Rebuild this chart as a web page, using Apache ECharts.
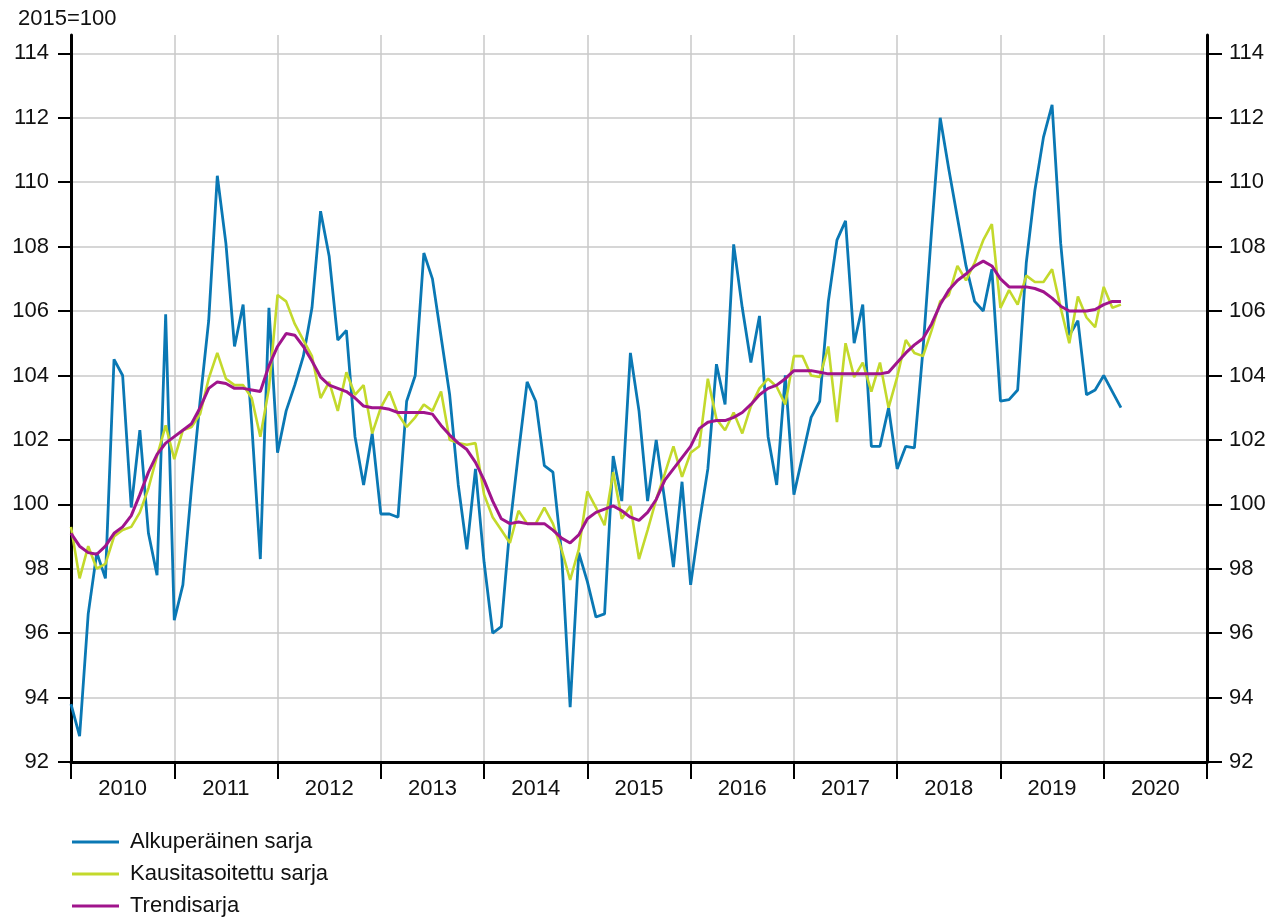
<!DOCTYPE html>
<html>
<head>
<meta charset="utf-8">
<script src="https://cdn.jsdelivr.net/npm/echarts@6/dist/echarts.min.js"></script>
<style>
html,body{margin:0;padding:0;background:#fff;}
#chart{width:1273px;height:917px;}
</style>
</head>
<body>
<div id="chart"></div>
<script>
// Years shown on the x axis (one label per year, centred between year ticks)
var yearLabels = ['2010','2011','2012','2013','2014','2015','2016','2017','2018','2019','2020'];
// y-axis tick values
var yTicks = [92,94,96,98,100,102,104,106,108,110,112,114];
var seriesNames = ['Alkuperäinen sarja','Kausitasoitettu sarja','Trendisarja'];

// Monthly values, Jan 2010 – Mar 2020
var original = [
  93.8, 92.8, 96.6, 98.5, 97.7, 104.5, 104.0, 99.9, 102.3, 99.1, 97.8, 105.9,
  96.4, 97.5, 100.5, 103.2, 105.7, 110.2, 108.1, 104.9, 106.2, 102.5, 98.3, 106.1,
  101.6, 102.9, 103.7, 104.6, 106.1, 109.1, 107.7, 105.1, 105.4, 102.1, 100.6, 102.2,
  99.7, 99.7, 99.6, 103.2, 104.0, 107.8, 107.0, 105.2, 103.4, 100.6, 98.6, 101.1,
  98.2, 96.0, 96.2, 99.3, 101.6, 103.8, 103.2, 101.2, 101.0, 98.5, 93.7, 98.5,
  97.6, 96.5, 96.6, 101.5, 100.1, 104.7, 102.9, 100.1, 102.0, 100.1, 98.05, 100.7,
  97.5, 99.4, 101.1, 104.35, 103.1, 108.07, 106.1, 104.4, 105.85, 102.1, 100.6, 104.0,
  100.3, 101.5, 102.7, 103.2, 106.3, 108.2, 108.8, 105.0, 106.2, 101.8, 101.8, 103.0,
  101.1, 101.8, 101.75, 104.8, 108.5, 112.0, 110.4, 108.9, 107.4, 106.3, 106.0, 107.3,
  103.2, 103.25, 103.55, 107.5, 109.75, 111.4, 112.4, 108.1, 105.25, 105.7, 103.4, 103.55,
  104.0, 103.5, 103.0
];
var seasonal = [
  99.3, 97.7, 98.7, 98.0, 98.15, 99.0, 99.2, 99.3, 99.75, 100.5, 101.5, 102.45,
  101.4, 102.3, 102.4, 102.8, 103.9, 104.7, 103.9, 103.7, 103.7, 103.3, 102.1, 103.6,
  106.5, 106.3, 105.6, 105.1, 104.6, 103.3, 103.8, 102.9, 104.1, 103.4, 103.7, 102.2,
  103.0, 103.5, 102.8, 102.4, 102.7, 103.1, 102.9, 103.5, 102.0, 101.9, 101.85, 101.9,
  100.3, 99.6, 99.2, 98.8, 99.8, 99.4, 99.4, 99.9, 99.4, 98.6, 97.65, 98.6,
  100.4, 99.9, 99.35, 101.0, 99.55, 99.95, 98.3, 99.2, 100.15, 100.95, 101.8, 100.85,
  101.6, 101.8, 103.9, 102.65, 102.3, 102.85, 102.2, 103.05, 103.6, 103.9, 103.65, 103.1,
  104.6, 104.6, 104.0, 103.95, 104.9, 102.55, 105.0, 103.95, 104.4, 103.5, 104.4, 103.0,
  103.95, 105.1, 104.7, 104.6, 105.4, 106.3, 106.5, 107.4, 106.95, 107.5, 108.2, 108.7,
  106.1, 106.65, 106.2, 107.1, 106.9, 106.9, 107.3, 106.1, 105.0, 106.45, 105.8, 105.5,
  106.75, 106.1, 106.2
];
var trend = [
  99.1, 98.7, 98.5, 98.45, 98.7, 99.1, 99.3, 99.65, 100.3, 101.0, 101.55, 101.9,
  102.1, 102.3, 102.5, 103.0, 103.6, 103.8, 103.75, 103.6, 103.6, 103.55, 103.5, 104.3,
  104.9, 105.3, 105.25, 104.9, 104.45, 103.95, 103.7, 103.6, 103.5, 103.3, 103.05, 103.0,
  103.0, 102.95, 102.85, 102.85, 102.85, 102.85, 102.8, 102.45, 102.15, 101.9, 101.7, 101.3,
  100.75, 100.1, 99.55, 99.4, 99.45, 99.4, 99.4, 99.4, 99.2, 98.95, 98.8, 99.05,
  99.55, 99.75, 99.85, 99.95, 99.8, 99.6, 99.5, 99.75, 100.15, 100.75, 101.1, 101.45,
  101.8, 102.35, 102.55, 102.6, 102.6, 102.7, 102.85, 103.1, 103.4, 103.6, 103.7, 103.9,
  104.15, 104.15, 104.15, 104.1, 104.05, 104.05, 104.05, 104.05, 104.05, 104.05, 104.05, 104.1,
  104.4, 104.7, 104.95, 105.15, 105.6, 106.2, 106.65, 106.95, 107.15, 107.4, 107.55, 107.4,
  107.0, 106.75, 106.75, 106.75, 106.7, 106.6, 106.4, 106.15, 106.0, 106.0, 106.0, 106.05,
  106.2, 106.3, 106.3
];

// Month categories Jan 2010 .. Jan 2021 (axis ends at start of 2021)
var months = [];
for (var y = 0; y < yearLabels.length; y++) {
  for (var m = 1; m <= 12; m++) months.push(yearLabels[y] + '-' + (m < 10 ? '0' + m : m));
}
months.push('2021-01');

var FONT = '"Liberation Sans", Arial, sans-serif';
var TXT = '#111111';
var chart = echarts.init(document.getElementById('chart'), null, {renderer: 'canvas'});

var yAxisBase = function (pos, tickLen, margin, showSplit) {
  return {
    type: 'value', position: pos, min: 92, max: 114.57, interval: 2,
    axisLine: {show: true, onZero: false, lineStyle: {color: '#000', width: 3}},
    axisTick: {show: true, length: tickLen, lineStyle: {color: '#000', width: 2}, customValues: yTicks},
    axisLabel: {show: true, margin: margin, fontSize: 22, color: TXT, fontFamily: FONT,
      customValues: yTicks},
    splitLine: {show: showSplit, lineStyle: {color: '#c8c8c8', width: 1.5}}
  };
};

chart.setOption({
  animation: false,
  backgroundColor: '#ffffff',
  title: {
    text: '2015=100', left: 18, top: 8, padding: 0,
    textStyle: {fontSize: 22, fontWeight: 'normal', color: TXT, fontFamily: FONT}
  },
  grid: {left: 71, right: 66, top: 35, bottom: 155, containLabel: false, outerBoundsMode: 'none'},
  legend: {
    orient: 'vertical', left: 72, top: 831, padding: 0, itemGap: 10,
    itemWidth: 47, itemHeight: 3, icon: 'rect',
    textStyle: {fontSize: 22, color: TXT, fontFamily: FONT, padding: [0, 0, 0, 6]},
    data: seriesNames
  },
  xAxis: {
    type: 'category', data: months, boundaryGap: false,
    axisLine: {show: true, onZero: false, lineStyle: {color: '#000', width: 3}},
    axisTick: {show: true, length: 17, lineStyle: {color: '#000', width: 2},
      interval: function (i) { return i % 12 === 0; }},
    axisLabel: {show: true, margin: 16, fontSize: 22, color: TXT, fontFamily: FONT,
      interval: function (i) { return i % 12 === 6; },
      formatter: function (v, i) { return yearLabels[Math.floor(i / 12)]; }},
    splitLine: {show: true, lineStyle: {color: '#c8c8c8', width: 1.5},
      interval: function (i) { return i % 12 === 0 && i > 0 && i < months.length - 1; }}
  },
  yAxis: [yAxisBase('left', 13, 22, true), yAxisBase('right', 15, 22, false)],
  series: [
    {name: seriesNames[0], type: 'line', data: original, symbol: 'none', showSymbol: false,
      color: '#0a78b4', lineStyle: {color: '#0a78b4', width: 2.8}, z: 2},
    {name: seriesNames[1], type: 'line', data: seasonal, symbol: 'none', showSymbol: false,
      color: '#c3d92c', lineStyle: {color: '#c3d92c', width: 2.6}, z: 3},
    {name: seriesNames[2], type: 'line', data: trend, symbol: 'none', showSymbol: false,
      color: '#a0148c', lineStyle: {color: '#a0148c', width: 3}, z: 4}
  ]
});
</script>
</body>
</html>
